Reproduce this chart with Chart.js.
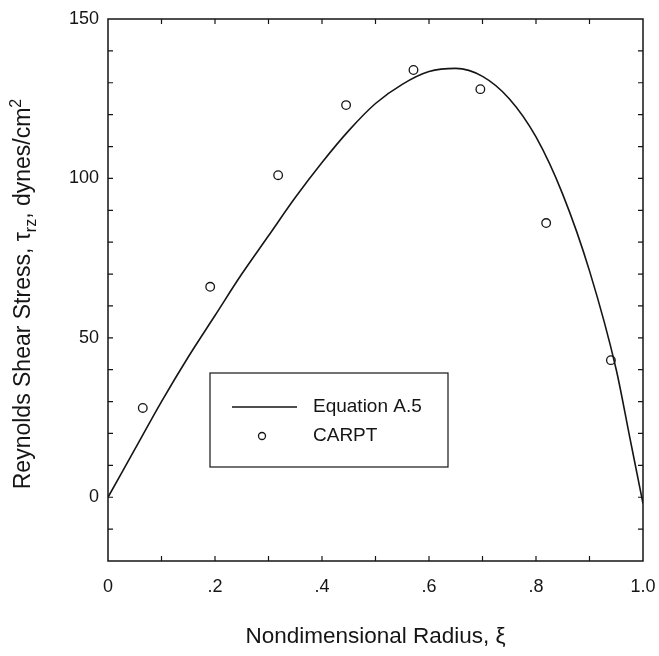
<!DOCTYPE html>
<html>
<head>
<meta charset="utf-8">
<script src="https://cdn.jsdelivr.net/npm/chart.js@4.4.1/dist/chart.umd.min.js"></script>
<style>
  html, body { margin: 0; padding: 0; background: #fff; }
</style>
</head>
<body>
<canvas id="myChart" width="659" height="656"></canvas>
<script>
// Equation A.5 curve
const curveX = [0, .05, .1, .15, .2, .25, .3, .35, .4, .45, .5, .55, .6, .65, .7, .75, .8, .85, .9, .95, .975, 1.0];
const curveY = [0, 15, 30, 44, 57, 70, 82, 94, 105, 115, 123.5, 129.5, 133.5, 134.5, 132, 125, 113, 95, 71, 40, 19, -2];

// CARPT measurements
const carptX = [0.065, 0.191, 0.318, 0.445, 0.571, 0.696, 0.819, 0.940];
const carptY = [28, 66, 101, 123, 134, 128, 86, 43];

const xTicks = [0, 0.2, 0.4, 0.6, 0.8, 1.0];
const xTickLabels = ["0", ".2", ".4", ".6", ".8", "1.0"];
const yTicks = [0, 50, 100, 150];
const yTickLabels = ["0", "50", "100", "150"];
const xMinorStep = 0.1;
const yMinorStep = 10;

const ink = "#151515";
const font = "'Liberation Sans', Arial, Helvetica, sans-serif";

// box + inward ticks on all four sides
const frame = {
  id: "frame",
  afterDraw(chart) {
    const { ctx, chartArea: a, scales: { x, y } } = chart;
    ctx.save();
    ctx.strokeStyle = ink;
    ctx.lineWidth = 1.5;
    ctx.strokeRect(a.left, a.top, a.right - a.left, a.bottom - a.top);
    ctx.lineWidth = 1.2;
    ctx.beginPath();
    const tl = 5;
    for (let v = x.min + xMinorStep; v < x.max - 1e-9; v += xMinorStep) {
      const px = x.getPixelForValue(v);
      ctx.moveTo(px, a.bottom); ctx.lineTo(px, a.bottom - tl);
      ctx.moveTo(px, a.top); ctx.lineTo(px, a.top + tl);
    }
    for (let v = y.min + yMinorStep; v < y.max - 1e-9; v += yMinorStep) {
      const py = y.getPixelForValue(v);
      ctx.moveTo(a.left, py); ctx.lineTo(a.left + tl, py);
      ctx.moveTo(a.right, py); ctx.lineTo(a.right - tl, py);
    }
    ctx.stroke();
    ctx.restore();
  }
};

// y title with subscript / superscript
const yTitle = {
  id: "yTitle",
  afterDraw(chart, args, opts) {
    const { ctx, chartArea: a } = chart;
    const parts = [
      ["Reynolds Shear Stress, \u03c4", 23, 0],
      ["rz", 16, 6],
      [", dynes/cm", 23, 0],
      ["2", 16, -9]
    ];
    ctx.save();
    ctx.fillStyle = ink;
    ctx.textBaseline = "alphabetic";
    let total = 0;
    parts.forEach(p => { ctx.font = p[1] + "px " + font; total += ctx.measureText(p[0]).width; });
    const cy = (a.top + a.bottom) / 2 + opts.shift;
    ctx.translate(opts.x, cy);
    ctx.rotate(-Math.PI / 2);
    let cx = -total / 2;
    parts.forEach(p => {
      ctx.font = p[1] + "px " + font;
      ctx.fillText(p[0], cx, 8 + p[2]);
      cx += ctx.measureText(p[0]).width;
    });
    ctx.restore();
  }
};

// boxed legend inside the plot
const boxLegend = {
  id: "boxLegend",
  afterDraw(chart, args, o) {
    const { ctx, chartArea: a } = chart;
    const ds = chart.data.datasets;
    const left = a.left + o.dx, top = a.top + o.dy;
    ctx.save();
    ctx.strokeStyle = ink;
    ctx.lineWidth = 1.2;
    ctx.fillStyle = "#fff";
    ctx.fillRect(left, top, o.w, o.h);
    ctx.strokeRect(left, top, o.w, o.h);
    const r1 = top + 34, r2 = top + 63;
    ctx.lineWidth = 1.5;
    ctx.beginPath();
    ctx.moveTo(left + 22, r1); ctx.lineTo(left + 87, r1);
    ctx.stroke();
    ctx.lineWidth = 1.3;
    ctx.beginPath();
    ctx.arc(left + 52, r2, 3.5, 0, Math.PI * 2);
    ctx.stroke();
    ctx.fillStyle = ink;
    ctx.font = "19px " + font;
    ctx.textBaseline = "middle";
    ctx.fillText(ds[0].label, left + 103, r1);
    ctx.fillText(ds[1].label, left + 103, r2);
    ctx.restore();
  }
};

new Chart(document.getElementById("myChart"), {
  type: "scatter",
  data: {
    datasets: [
      {
        label: "Equation A.5",
        data: curveX.map((v, i) => ({ x: v, y: curveY[i] })),
        showLine: true,
        borderColor: ink,
        borderWidth: 1.6,
        pointRadius: 0,
        cubicInterpolationMode: "monotone",
      },
      {
        label: "CARPT",
        data: carptX.map((v, i) => ({ x: v, y: carptY[i] })),
        pointStyle: "circle",
        pointRadius: 4.3,
        borderColor: ink,
        borderWidth: 1.3,
        backgroundColor: "rgba(0,0,0,0)",
      },
    ],
  },
  options: {
    responsive: false,
    animation: false,
    layout: { padding: { top: 19, right: 16, left: 0, bottom: 0 } },
    plugins: {
      legend: { display: false },
      tooltip: { enabled: false },
      yTitle: { x: 22, shift: 4 },
      boxLegend: { dx: 102, dy: 354, w: 238, h: 94 },
    },
    scales: {
      x: {
        min: 0,
        max: 1,
        afterFit: (s) => { s.height = 95; s.paddingRight = 0; s.paddingLeft = 0; },
        afterBuildTicks: (s) => { s.ticks = xTicks.map(v => ({ value: v })); },
        grid: { display: false, drawTicks: false },
        border: { display: false },
        ticks: {
          color: ink,
          padding: 15,
          maxRotation: 0,
          font: { family: font, size: 18 },
          callback: (v) => xTickLabels[xTicks.indexOf(v)],
        },
        title: {
          display: true,
          text: "Nondimensional Radius, \u03be",
          color: ink,
          font: { family: font, size: 22.5 },
          padding: { top: 0, bottom: 6 },
        },
      },
      y: {
        min: -20,
        max: 150,
        afterFit: (s) => { s.width = 108; s.paddingTop = 0; s.paddingBottom = 0; },
        afterBuildTicks: (s) => { s.ticks = yTicks.map(v => ({ value: v })); },
        grid: { display: false, drawTicks: false },
        border: { display: false },
        ticks: {
          color: ink,
          padding: 9,
          font: { family: font, size: 18 },
          callback: (v) => yTickLabels[yTicks.indexOf(v)],
        },
      },
    },
  },
  plugins: [frame, yTitle, boxLegend],
});
</script>
</body>
</html>
